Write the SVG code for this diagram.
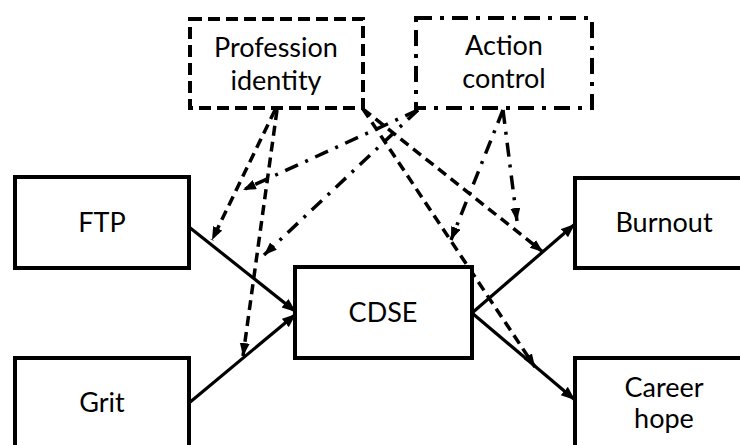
<svg xmlns="http://www.w3.org/2000/svg" width="740" height="445" viewBox="0 0 740 445">
<style>
.box{fill:#fff;stroke:#000;stroke-width:4}
.dash{stroke-dasharray:12 6}
.dashdot{stroke-dasharray:16 8 4 8}
.lbl{font-family:Lato,"Liberation Sans",sans-serif;font-size:27px;fill:#000;text-anchor:middle}
.solid{stroke:#000;stroke-width:3.2;fill:none;marker-end:url(#ah)}
.dl{stroke:#000;stroke-width:3.5;fill:none;stroke-dasharray:10 6;marker-end:url(#ah2)}
.ddl{stroke:#000;stroke-width:3.5;fill:none;stroke-dasharray:14 8 3 8;marker-end:url(#ah2)}
</style>
<defs>
<marker id="ah" markerUnits="userSpaceOnUse" markerWidth="16" markerHeight="12" refX="14" refY="5.5" orient="auto">
<path d="M0,0 L14,5.5 L0,11 z" fill="#000"/>
</marker>
<marker id="ah2" markerUnits="userSpaceOnUse" markerWidth="14" markerHeight="12" refX="13" refY="5" orient="auto">
<path d="M0,0 L13,5 L0,10 z" fill="#000"/>
</marker>
</defs>
<rect width="740" height="445" fill="#fff"/>
<g id="connectors">
<line class="solid" x1="189" y1="227" x2="296" y2="312"/>
<line class="solid" x1="189" y1="403" x2="296" y2="314"/>
<line class="solid" x1="472" y1="313" x2="575" y2="224"/>
<line class="solid" x1="472" y1="313" x2="575" y2="400"/>
<line class="dl" x1="275" y1="110" x2="212" y2="240"/>
<line class="dl" x1="277" y1="110" x2="243" y2="356"/>
<line class="dl" x1="363" y1="109" x2="543" y2="252"/>
<line class="dl" x1="363" y1="109" x2="535" y2="367"/>
<line class="ddl" x1="418" y1="110" x2="243" y2="190"/>
<line class="ddl" x1="418" y1="110" x2="264" y2="255"/>
<line class="ddl" x1="503" y1="110" x2="451" y2="240"/>
<line class="ddl" x1="503" y1="110" x2="517" y2="221"/>
</g>
<g id="profession">
<rect class="box dash" x="190" y="19" width="173" height="89"/>
<text class="lbl" x="276" y="57">Profession</text>
<text class="lbl" x="276" y="90">identity</text>
</g>
<g id="action">
<rect class="box dashdot" x="416" y="18" width="176" height="90"/>
<text class="lbl" x="504" y="55">Action</text>
<text class="lbl" x="504" y="88">control</text>
</g>
<g id="ftp">
<rect class="box" x="15" y="177" width="174" height="91"/>
<text class="lbl" x="102" y="232">FTP</text>
</g>
<g id="grit">
<rect class="box" x="15" y="358" width="174" height="100"/>
<text class="lbl" x="102" y="412">Grit</text>
</g>
<g id="cdse">
<rect class="box" x="295" y="267" width="177" height="91"/>
<text class="lbl" x="383" y="322">CDSE</text>
</g>
<g id="burnout">
<rect class="box" x="575" y="178" width="180" height="90"/>
<text class="lbl" x="664" y="232">Burnout</text>
</g>
<g id="careerhope">
<rect class="box" x="575" y="358" width="180" height="100"/>
<text class="lbl" x="664" y="397">Career</text>
<text class="lbl" x="664" y="428">hope</text>
</g>
</svg>
